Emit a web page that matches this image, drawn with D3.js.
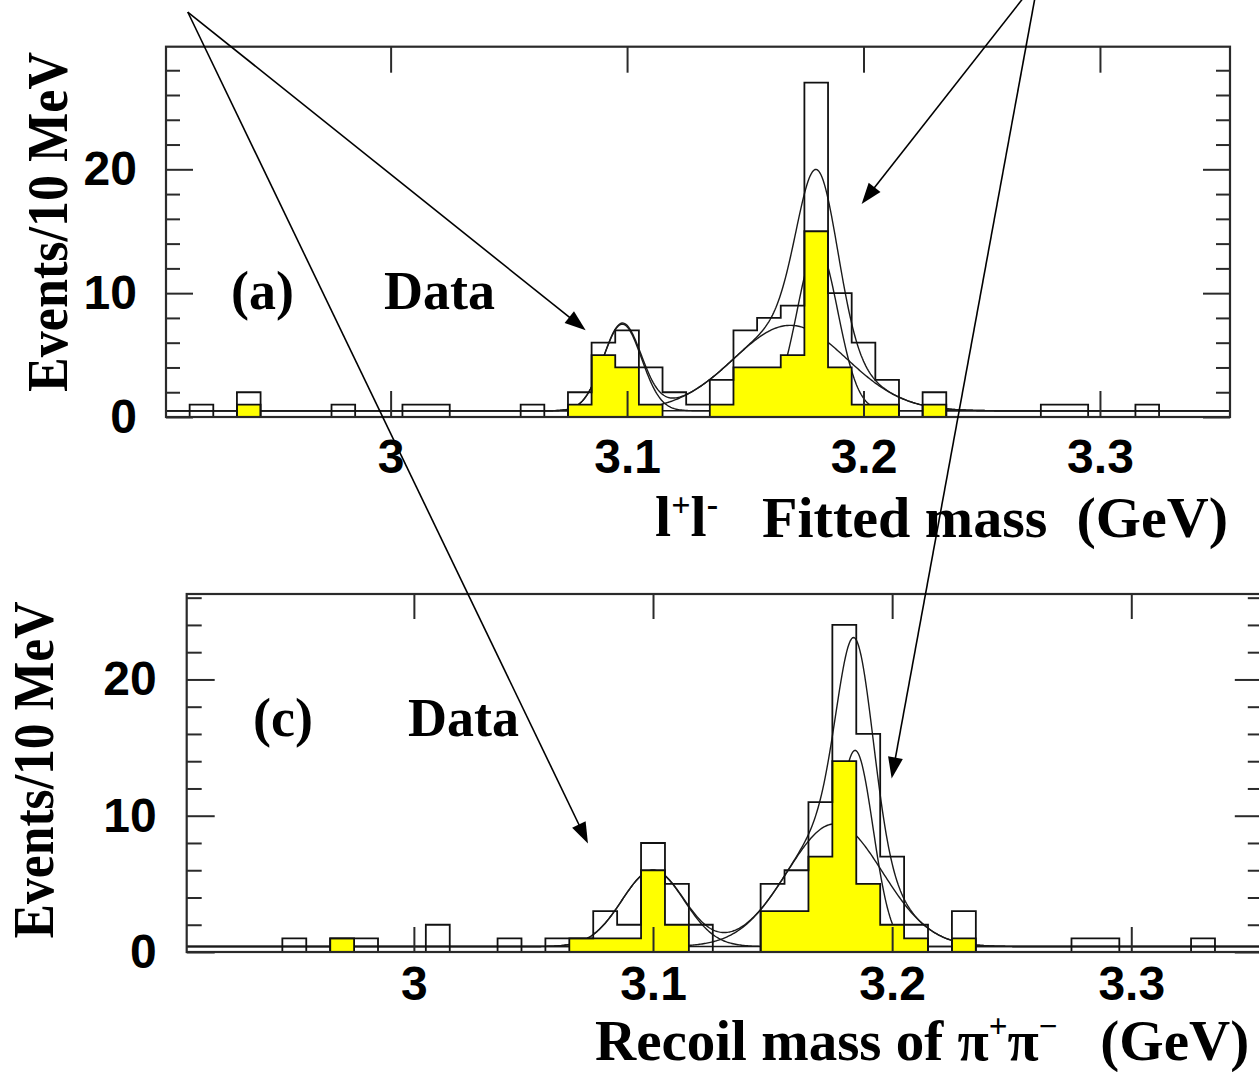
<!DOCTYPE html>
<html><head><meta charset="utf-8">
<script src="https://cdn.jsdelivr.net/npm/d3@7"></script>
<style>
body{margin:0;background:#fff;}
svg{display:block;}
text{white-space:pre;}
</style></head><body>
<svg id="chart" width="1259" height="1072"></svg>
<script>
// ---------------- data ----------------
const massDomain = [2.905, 3.355];          // GeV
const binWidth = 0.01;                       // 10 MeV bins
const xTickValues = [3.0, 3.1, 3.2, 3.3];
const xTickLabels = ["3", "3.1", "3.2", "3.3"];
const yMajorTicks = [0, 10, 20];
const yMajorLabels = ["0", "10", "20"];

// panel (a): l+l- fitted mass, all events and signal (yellow)
const topAll = [0,1,0,2,0,0,0,1,0,0, 1,1,0,0,0,1,0,2,6,7, 4,2,1,3,7,8,9,27,10,6, 3,0,2,0,0,0,0,1,1,0, 0,1,0,0,0];
const topSignal = [0,0,0,1,0,0,0,0,0,0, 0,0,0,0,0,0,0,1,5,4, 1,0,0,1,4,4,5,15,4,1, 1,0,1,0,0,0,0,0,0,0, 0,0,0,0,0];

// panel (c): recoil mass of pi+pi-
const bottomAll = [0,0,0,0,1,0,1,1,0,0, 2,0,0,1,0,1,1,3,2,8, 5,2,0,0,5,6,11,24,16,7, 2,0,3,0,0,0,0,1,1,0, 0,0,1,0,0];
const bottomSignal = [0,0,0,0,0,0,1,0,0,0, 0,0,0,0,0,0,1,1,1,6, 2,0,0,0,3,3,7,14,5,2, 1,0,1,0,0,0,0,0,0,0, 0,0,0,0,0];

// fitted curves: background level, and gaussian [amplitude, mean, sigma]
const topBackground = 0.5;
const topJpsi = [7.0, 3.098, 0.0081];
const topNarrow = [13.3, 3.1805, 0.0086];
const topBroad = [6.9, 3.169, 0.024];

const bottomBackground = 0.4;
const bottomJpsi = [5.6, 3.100, 0.013];
const bottomNarrow = [14.4, 3.1845, 0.0075];
const bottomBroad = [9.0, 3.176, 0.020];

// annotation arrows: [apex mass, apex events] -> [tip mass, tip events] (panel data coords)
const topArrows = [
  {from: [2.9142, 32.7], to: [3.0825, 7.0]},
  {from: [3.2740, 35.4], to: [3.1992, 17.2]}
];
const bottomArrowTips = [[3.0728, 7.97], [3.1998, 12.74]];

// ---------------- drawing ----------------
const svg = d3.select("#chart");
const SANS = "'Liberation Sans', Arial, Helvetica, sans-serif";
const SERIF = "'Liberation Serif', 'Times New Roman', serif";

const panels = [
  {id:"a", all: topAll, sig: topSignal, bg: topBackground, comps:[topJpsi, topNarrow, topBroad],
   left:166, right:1230, top:46.7, bottom:417, yMax:29.9, minorLen:14, majorLen:27, xTickLen:26,
   yPad:29, xPad:22, label:"(a)", labelX:231, dataX:384, textY:309,
   ylabX:67, ylabY:222, ylabLen:340},
  {id:"c", all: bottomAll, sig: bottomSignal, bg: bottomBackground, comps:[bottomJpsi, bottomNarrow, bottomBroad],
   left:186.7, right:1262.8, top:594, bottom:952, yMax:26.27, minorLen:15, majorLen:28, xTickLen:25,
   yPad:30, xPad:14, label:"(c)", labelX:253, dataX:408, textY:736,
   ylabX:53, ylabY:770, ylabLen:337}
];

const gauss = (p, m) => p[0] * Math.exp(-((m - p[1]) ** 2) / (2 * p[2] * p[2]));
const samples = d3.range(massDomain[0], massDomain[1] + 1e-9, 0.0005);

const scales = {};

panels.forEach(P => {
  const x = d3.scaleLinear().domain(massDomain).range([P.left, P.right]);
  const y = d3.scaleLinear().domain([0, P.yMax]).range([P.bottom, P.top]);
  scales[P.id] = {x, y};
  const g = svg.append("g");

  const clipId = "clip-" + P.id;
  svg.append("clipPath").attr("id", clipId).append("rect")
    .attr("x", P.left).attr("y", P.top).attr("width", P.right - P.left).attr("height", P.bottom - P.top);

  // fitted curves
  const curveG = g.append("g").attr("clip-path", `url(#${clipId})`);
  const line = d3.line().x(d => x(d[0])).y(d => y(d[1]));
  const total = samples.map(m => [m, P.bg + P.comps.reduce((s, c) => s + gauss(c, m), 0)]);
  const compCurves = P.comps.map(c => samples.map(m => [m, P.bg + gauss(c, m)]));
  [total, ...compCurves].forEach(c => {
    curveG.append("path").attr("d", line(c)).attr("fill", "none")
      .attr("stroke", "#1a1a1a").attr("stroke-width", 1.4);
  });

  // histogram step points
  const stepPts = vals => {
    const pts = [[massDomain[0], 0]];
    vals.forEach((v, k) => {
      const e0 = massDomain[0] + k * binWidth;
      pts.push([e0, v], [e0 + binWidth, v]);
    });
    pts.push([massDomain[0] + vals.length * binWidth, 0]);
    return pts;
  };
  const histG = g.append("g").attr("clip-path", `url(#${clipId})`);
  const area = d3.area().x(d => x(d[0])).y0(y(0)).y1(d => y(d[1]));
  const sigPts = stepPts(P.sig);
  histG.append("path").attr("d", area(sigPts)).attr("fill", "#ffff00").attr("stroke", "none");
  histG.append("path").attr("d", line(sigPts)).attr("fill", "none").attr("stroke", "#111").attr("stroke-width", 1.8);
  histG.append("path").attr("d", line(stepPts(P.all))).attr("fill", "none").attr("stroke", "#111").attr("stroke-width", 1.8);

  // frame
  g.append("rect").attr("x", P.left).attr("y", P.top)
    .attr("width", P.right - P.left).attr("height", P.bottom - P.top)
    .attr("fill", "none").attr("stroke", "#2a2a2a").attr("stroke-width", 2.2);

  // axes
  const minor = d3.range(2, P.yMax, 2).filter(v => v % 10 !== 0);
  const styleAxis = sel => {
    sel.select(".domain").remove();
    sel.selectAll(".tick line").attr("stroke", "#2a2a2a").attr("stroke-width", 2);
    sel.selectAll(".tick text").attr("fill", "#000").attr("font-family", SANS)
      .attr("font-weight", "bold").attr("font-size", 48);
  };
  g.append("g").attr("transform", `translate(${P.left},0)`)
    .call(d3.axisLeft(y).tickValues(yMajorTicks).tickSize(-P.majorLen).tickPadding(P.yPad)
      .tickFormat((d, i) => yMajorLabels[i])).call(styleAxis);
  g.append("g").attr("transform", `translate(${P.left},0)`)
    .call(d3.axisLeft(y).tickValues(minor).tickSize(-P.minorLen).tickFormat("")).call(styleAxis);
  g.append("g").attr("transform", `translate(${P.right},0)`)
    .call(d3.axisRight(y).tickValues(yMajorTicks).tickSize(-P.majorLen).tickFormat("")).call(styleAxis);
  g.append("g").attr("transform", `translate(${P.right},0)`)
    .call(d3.axisRight(y).tickValues(minor).tickSize(-P.minorLen).tickFormat("")).call(styleAxis);
  g.append("g").attr("transform", `translate(0,${P.bottom})`)
    .call(d3.axisBottom(x).tickValues(xTickValues).tickSize(-P.xTickLen).tickPadding(P.xPad)
      .tickFormat((d, i) => xTickLabels[i])).call(styleAxis);
  g.append("g").attr("transform", `translate(0,${P.top})`)
    .call(d3.axisTop(x).tickValues(xTickValues).tickSize(-P.xTickLen).tickFormat("")).call(styleAxis);

  // panel texts
  const serifText = (tx, ty, str, size) => g.append("text").attr("x", tx).attr("y", ty)
    .attr("font-family", SERIF).attr("font-weight", "bold").attr("font-size", size).text(str);
  serifText(P.labelX, P.textY, P.label, 54);
  serifText(P.dataX, P.textY, "Data", 54);

  g.append("text").attr("transform", `translate(${P.ylabX},${P.ylabY}) rotate(-90)`)
    .attr("text-anchor", "middle").attr("font-family", SERIF).attr("font-weight", "bold")
    .attr("font-size", 58).attr("textLength", P.ylabLen).attr("lengthAdjust", "spacingAndGlyphs")
    .text("Events/10 MeV");
});

// x-axis titles
const t1 = svg.append("text").attr("y", 536).attr("font-family", SERIF).attr("font-weight", "bold").attr("font-size", 58);
t1.append("tspan").attr("x", 655).text("l");
t1.append("tspan").attr("font-size", 34).attr("dy", -20).text("+");
t1.append("tspan").attr("font-size", 58).attr("dy", 20).text("l");
t1.append("tspan").attr("font-size", 34).attr("dy", -20).text("-");
svg.append("text").attr("x", 762).attr("y", 537).attr("font-family", SERIF).attr("font-weight", "bold")
  .attr("font-size", 58).attr("textLength", 466).attr("lengthAdjust", "spacingAndGlyphs")
  .text("Fitted mass  (GeV)");

const t2 = svg.append("text").attr("x", 595).attr("y", 1060).attr("font-family", SERIF)
  .attr("font-weight", "bold").attr("font-size", 57);
t2.append("tspan").text("Recoil mass of \u03c0");
t2.append("tspan").attr("font-size", 33).attr("dy", -23).text("+");
t2.append("tspan").attr("font-size", 57).attr("dy", 23).text("\u03c0");
t2.append("tspan").attr("font-size", 33).attr("dy", -23).text("\u2212");
t2.append("tspan").attr("font-size", 57).attr("dy", 23).text("   (GeV)");

// arrows
const arrowG = svg.append("g");
function arrow(p0, p1) {
  const dx = p1[0] - p0[0], dy = p1[1] - p0[1];
  const L = Math.hypot(dx, dy), ux = dx / L, uy = dy / L, nx = -uy, ny = ux;
  const hl = 21, hw = 7.5;
  arrowG.append("line").attr("x1", p0[0]).attr("y1", p0[1])
    .attr("x2", p1[0] - ux * (hl - 2)).attr("y2", p1[1] - uy * (hl - 2))
    .attr("stroke", "#000").attr("stroke-width", 1.6);
  const bx = p1[0] - ux * hl, by = p1[1] - uy * hl;
  arrowG.append("path").attr("d", `M${p1[0]},${p1[1]}L${bx + nx * hw},${by + ny * hw}L${bx - nx * hw},${by - ny * hw}Z`)
    .attr("fill", "#000");
}
const sa = scales.a, sc = scales.c;
topArrows.forEach((a, i) => {
  const apex = [sa.x(a.from[0]), sa.y(a.from[1])];
  arrow(apex, [sa.x(a.to[0]), sa.y(a.to[1])]);
  const bt = bottomArrowTips[i];
  arrow(apex, [sc.x(bt[0]), sc.y(bt[1])]);
});
</script>
</body></html>
